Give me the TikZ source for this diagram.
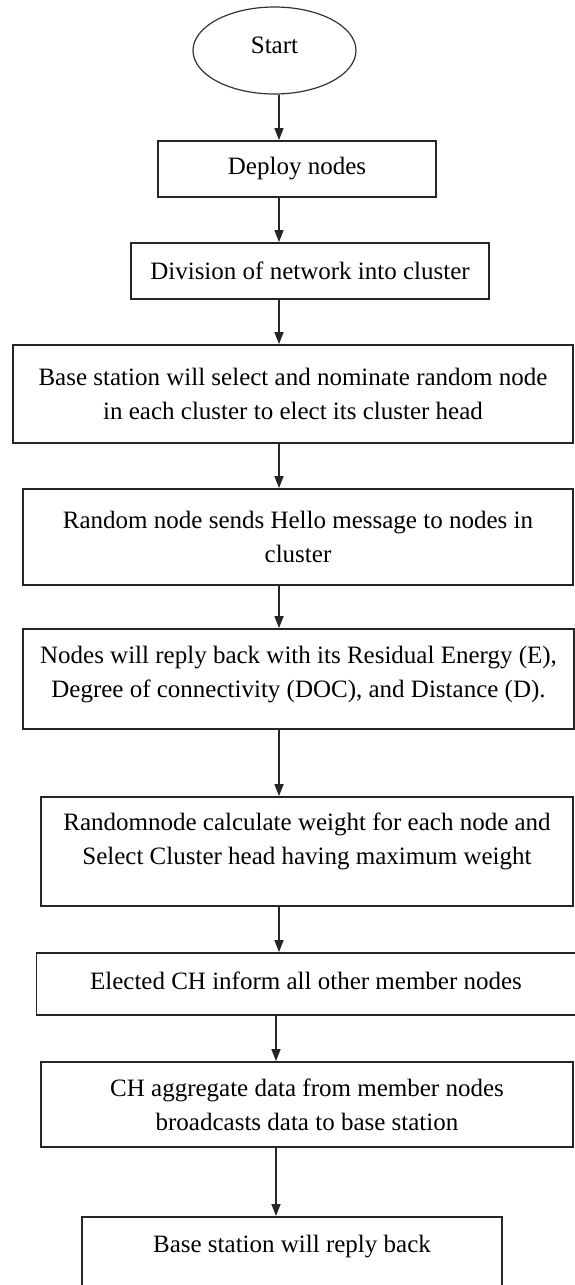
\documentclass[tikz,border=0pt]{standalone}
\usepackage{fontspec}
\setmainfont{Liberation Serif}
\usetikzlibrary{arrows.meta,shapes.geometric}

\tikzset{
  stepbox/.style={draw=black!85, line width=1.8pt, rectangle, align=center, inner sep=0pt},
  flowarrow/.style={draw=black!85, line width=1.4pt, -{Triangle[length=12pt,width=9pt]}},
}

\begin{document}
\begin{tikzpicture}[x=1pt,y=-1pt,font=\fontsize{25}{34}\selectfont]
    %%%%% START %%%%%
    \useasboundingbox (0,0) rectangle (574,1285);
    \coordinate (spine) at (279,0);
    \coordinate (spinelow) at (276,0);

    \node[ellipse, draw=black!80, line width=1.2pt, inner sep=0pt, minimum width=163, minimum height=87, text height=17pt, text depth=12pt] (start) at (274.5,50.5) {Start};

    \node[stepbox, minimum width=278, minimum height=56] (deploy) at (297,169) {Deploy nodes};
    \node[stepbox, minimum width=358, minimum height=56] (divide) at (310,271) {Division of network into cluster};
    \node[stepbox, minimum width=560, minimum height=98] (nominate) at (293,394) {Base station will select and nominate random node\\in each cluster to elect its cluster head};
    \node[stepbox, minimum width=550, minimum height=96] (hello) at (298,537) {Random node sends Hello message to nodes in\\cluster};
    \node[stepbox, minimum width=551, minimum height=100] (reply) at (298.5,679) {Nodes will reply back with its Residual Energy (E),\\Degree of connectivity (DOC), and Distance (D).\\[-19pt]\mbox{}};
    \node[stepbox, minimum width=532, minimum height=109] (weight) at (307,851.5) {Randomnode calculate weight for each node and\\Select Cluster head having maximum weight\\[-8pt]\mbox{}};
    \node[stepbox, minimum width=539, text height=36pt, text depth=26pt] (inform) at (306,984) {Elected CH inform all other member nodes};
    \node[stepbox, minimum width=532, minimum height=85] (aggregate) at (307,1104.5) {CH aggregate data from member nodes\\broadcasts data to base station};
    \node[stepbox, anchor=north, minimum width=420, text height=36pt, text depth=80pt] (bsreply) at (292,1216) {Base station will reply back};

    % arrows down the chart
    \draw[flowarrow] (start.south -| spine) -- (deploy.north -| spine);
    \draw[flowarrow] (deploy.south -| spine) -- (divide.north -| spine);
    \draw[flowarrow] (divide.south -| spine) -- (nominate.north -| spine);
    \draw[flowarrow] (nominate.south -| spine) -- (hello.north -| spine);
    \draw[flowarrow] (hello.south -| spine) -- (reply.north -| spine);
    \draw[flowarrow] (reply.south -| spine) -- (weight.north -| spine);
    \draw[flowarrow] (weight.south -| spine) -- (inform.north -| spine);
    \draw[flowarrow] (inform.south -| spinelow) -- (aggregate.north -| spinelow);
    \draw[flowarrow] (aggregate.south -| spinelow) -- (bsreply.north -| spinelow);
    %%%%% END %%%%%
\end{tikzpicture}
\end{document}
